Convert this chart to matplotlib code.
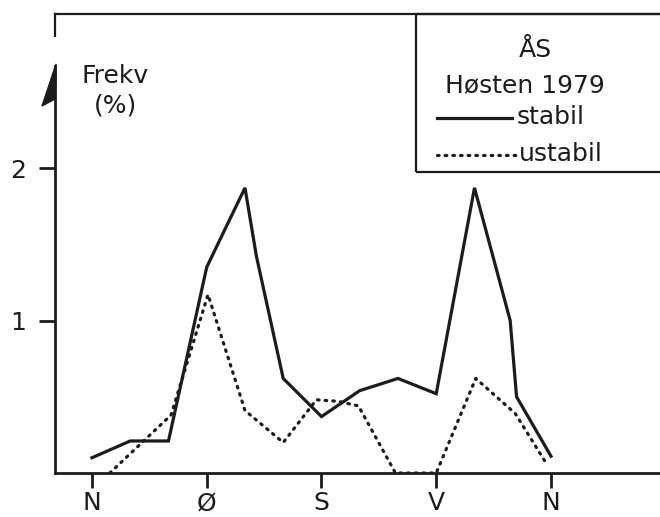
import numpy as np
import matplotlib
matplotlib.use('Agg')
import matplotlib.pyplot as plt
from matplotlib.lines import Line2D
from matplotlib.patches import Polygon, Rectangle

# ------------------------------ data ------------------------------
# vindretning i grader (N=0, Ø=90, S=180, V=270, N=360), frekvens i %
dir_stabil = [0, 30, 60, 90, 120, 129, 150, 180, 210, 240, 270, 300, 328, 333, 360]
frek_stabil = [0.10, 0.21, 0.21, 1.35, 1.87, 1.42, 0.62, 0.37, 0.54, 0.62, 0.52, 1.87, 1.00, 0.50, 0.11]

dir_ustabil = [14, 62, 91, 120, 150, 176, 193, 209, 238, 270, 301, 332, 355]
frek_ustabil = [0.0, 0.38, 1.17, 0.41, 0.20, 0.48, 0.47, 0.44, 0.0, 0.0, 0.62, 0.39, 0.08]

x_ticks = [0, 90, 180, 270, 360]
x_labels = ['N', 'Ø', 'S', 'V', 'N']
y_ticks = [1, 2]
y_labels = ['1', '2']

title_place = 'ÅS'
title_season = 'Høsten 1979'
name_stabil = 'stabil'
name_ustabil = 'ustabil'

# ------------------------------ style ------------------------------
W, H = 660, 517
ink = '#1c1c1c'
plt.rcParams['font.family'] = ['DejaVu Sans']
fs = 18
dot_style = dict(lw=2.3, dashes=(0.5, 1.9), dash_capstyle='round')

def fx(px):
    return px / W

def fy(py):
    return 1 - py / H

fig = plt.figure(figsize=(W / 100, H / 100), dpi=100)
ax = fig.add_axes([fx(55), fy(473), fx(660) - fx(55), fy(14) - fy(473)])

ax.plot(dir_stabil, frek_stabil, color=ink, lw=2.3, solid_joinstyle='miter')
ax.plot(dir_ustabil, frek_ustabil, color=ink, **dot_style)

ax.set_xlim(-29, 445.5)
ax.set_ylim(0, 3.01)

for side in ['left', 'right']:
    ax.spines[side].set_visible(False)
ax.spines['bottom'].set_linewidth(2.0)
ax.spines['top'].set_linewidth(1.6)
ax.spines['bottom'].set_color(ink)
ax.spines['top'].set_color(ink)

ax.set_xticks(x_ticks)
ax.set_xticklabels(x_labels, fontsize=fs, color=ink)
ax.set_yticks(y_ticks)
ax.set_yticklabels(y_labels, fontsize=fs, color=ink)
ax.tick_params(axis='x', length=11, width=2.0, pad=2, color=ink)
ax.tick_params(axis='y', length=11.5, width=2.0, pad=9, color=ink)

# y-akse med halv pil og rammestump oppe
fig.add_artist(Line2D([fx(55), fx(55)], [fy(473), fy(66)], color=ink, lw=2.0))
fig.add_artist(Line2D([fx(55), fx(55)], [fy(36), fy(14)], color=ink, lw=1.6))
fig.add_artist(Polygon([[fx(56), fy(64)], [fx(42), fy(106)], [fx(55), fy(99)]],
                       closed=True, color=ink, transform=fig.transFigure))

fig.text(fx(115), fy(76), 'Frekv', fontsize=fs, color=ink, ha='center', va='center')
fig.text(fx(115), fy(105), '(%)', fontsize=fs, color=ink, ha='center', va='center')

# ------------------------------ forklaring ------------------------------
fig.add_artist(Rectangle((fx(416), fy(172)), fx(720) - fx(416), fy(14) - fy(172),
                         fill=False, edgecolor=ink, lw=1.6, transform=fig.transFigure))
fig.text(fx(535), fy(50), title_place, fontsize=fs, color=ink, ha='center', va='center')
fig.text(fx(525), fy(85), title_season, fontsize=fs, color=ink, ha='center', va='center')
fig.add_artist(Line2D([fx(437), fx(512)], [fy(118), fy(118)], color=ink, lw=2.3))
fig.text(fx(517), fy(117), name_stabil, fontsize=fs, color=ink, ha='left', va='center')
fig.add_artist(Line2D([fx(437), fx(516)], [fy(155), fy(155)], color=ink, **dot_style))
fig.text(fx(519), fy(154), name_ustabil, fontsize=fs, color=ink, ha='left', va='center')

fig.savefig('out.png', dpi=100, facecolor='white')
